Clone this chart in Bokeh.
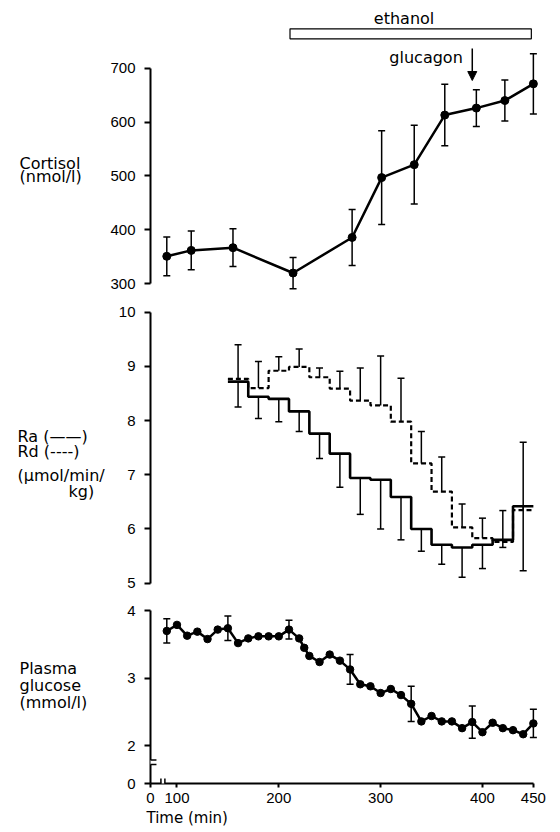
from bokeh.plotting import figure
from bokeh.models import (Range1d, FixedTicker, Whisker, TeeHead, ColumnDataSource,
                          Label, Arrow, NormalHead, BoxAnnotation, Title)
from bokeh.layouts import column, row
from bokeh.core.properties import value
from bokeh.embed import file_html
from bokeh.resources import INLINE

# ---------------- data ----------------
cortisol_time = [90, 114, 155, 214, 272, 301, 333, 363, 394, 422, 450]
cortisol = [351, 362, 367, 320, 386, 497, 521, 613, 626, 640, 671]
cortisol_sem = [36, 36, 35, 29, 52, 87, 73, 57, 34, 38, 56]

rate_edges = [150, 170, 190, 210, 230, 250, 270, 290, 310, 330, 350, 370, 390, 410, 430, 450]
ra = [8.72, 8.44, 8.40, 8.17, 7.76, 7.39, 6.94, 6.91, 6.59, 6.00, 5.71, 5.66, 5.71, 5.80, 6.42]
ra_sem = [0.47, 0.40, 0.42, 0.37, 0.46, 0.62, 0.67, 0.91, 0.79, 0.41, 0.36, 0.55, 0.44, 0.14, 1.19]
rd = [8.77, 8.60, 8.92, 8.99, 8.80, 8.59, 8.37, 8.28, 7.98, 7.21, 6.69, 6.03, 5.83, 5.76, 6.35]
rd_sem = [0.63, 0.49, 0.26, 0.33, 0.17, 0.32, 0.60, 0.91, 0.80, 0.59, 0.64, 0.43, 0.37, 0.58, 1.25]

glucose_time = [90, 100, 110, 120, 130, 140, 150, 160, 170, 180, 190, 200, 210, 220, 225,
                230, 240, 250, 260, 270, 280, 290, 300, 310, 320, 330, 340, 350, 360, 370,
                380, 390, 400, 410, 420, 430, 440, 450]
glucose = [3.70, 3.79, 3.63, 3.69, 3.58, 3.72, 3.74, 3.52, 3.59, 3.62, 3.62, 3.62, 3.72, 3.59, 3.45,
           3.33, 3.24, 3.35, 3.26, 3.13, 2.91, 2.88, 2.78, 2.84, 2.75, 2.62, 2.36, 2.44, 2.36, 2.36,
           2.26, 2.35, 2.20, 2.34, 2.26, 2.23, 2.17, 2.33]
glucose_sem_time = [90, 150, 210, 270, 330, 390, 450]
glucose_sem = [0.18, 0.18, 0.14, 0.22, 0.26, 0.24, 0.21]

ethanol_period = (211, 448)
glucagon_time = 390

cortisol_ticks = [300, 400, 500, 600, 700]
rate_ticks = [5, 6, 7, 8, 9, 10]
glucose_ticks = [2, 3, 4]
time_ticks = [100, 200, 300, 400, 450]

cortisol_label = ["Cortisol", "(nmol/l)"]
rate_label = ["Ra (\u2014\u2014)", "Rd (----)", "(\u03bcmol/min/", "kg)"]
glucose_label = ["Plasma", "glucose", "(mmol/l)"]
time_label = "Time (min)"

# ---------------- layout ----------------
FONT = "DejaVu Sans"
TICK_FONT = "Liberation Sans"
LABEL_W = 107             # left column holding the horizontal axis titles
TOTAL_H = 831
W = 559 - LABEL_W
FRAME_L = 40              # frame left edge at page x = 147
FRAME_W = 393
FRAME_R = W - FRAME_L - FRAME_W
X0, X1 = 74, 457          # X0 is drawn as "0" (broken time axis)
GLU_ZERO = 1.44           # drawn as "0" (broken glucose axis)
PAGE_FRAME_L = LABEL_W + FRAME_L

xr = Range1d(X0, X1)


def px_x(page_x):
    return X0 + (page_x - PAGE_FRAME_L) * (X1 - X0) / FRAME_W


def panel(height, y0, y1, top_page, bottom_border=0, xaxis=False):
    p = figure(width=W, height=height, x_range=xr, y_range=Range1d(y0, y1),
               x_axis_location="below" if xaxis else None,
               toolbar_location=None, output_backend="svg",
               min_border_left=FRAME_L, min_border_right=FRAME_R,
               min_border_top=0, min_border_bottom=bottom_border,
               outline_line_color=None, background_fill_color="white",
               border_fill_color="white")
    p.grid.visible = False
    frame_h = height - bottom_border

    def py(page_y):
        return y1 - (page_y - top_page) * (y1 - y0) / frame_h
    return p, py


def style_axis(ax, ticks, bounds, overrides, tick_out=6, standoff=9):
    ax.ticker = FixedTicker(ticks=ticks)
    ax.bounds = bounds
    ax.axis_line_width = 2
    ax.axis_line_color = "black"
    ax.major_tick_line_width = 2
    ax.major_tick_line_color = "black"
    ax.major_tick_out = tick_out
    ax.major_tick_in = 0
    ax.minor_tick_line_color = None
    ax.major_label_text_font = TICK_FONT
    ax.major_label_text_font_size = "15px"
    ax.major_label_text_color = "black"
    ax.major_label_standoff = standoff
    ax.major_label_overrides = overrides


def label(p, x, y, text, size="16px", align="left"):
    p.add_layout(Label(x=x, y=y, text=text, text_font=FONT, text_font_size=size,
                       text_baseline="middle", text_align=align, text_color="black"))


def tee():
    return TeeHead(size=7, line_width=1.5, line_color="black")


# ---------------- left column: horizontal axis titles ----------------
lab = figure(width=LABEL_W, height=TOTAL_H, x_range=Range1d(0, LABEL_W),
             y_range=Range1d(TOTAL_H, 0), x_axis_location=None, y_axis_location=None,
             toolbar_location=None, output_backend="svg", min_border=0,
             outline_line_color=None, background_fill_color="white",
             border_fill_color="white")
lab.grid.visible = False
lab_x = [19, 19, 17, 17, 17, 68, 19, 19, 19]
lab_y = [162.5, 176, 436, 451, 475, 491, 668, 685, 702]
lab.text(x=lab_x, y=lab_y, text=cortisol_label + rate_label + glucose_label,
         text_font=value(FONT), text_font_size=value("16px"), text_color="black",
         text_baseline="middle", text_align="left")

# ---------------- panel 1: cortisol ----------------
p1, py1 = panel(298, 283.86, 825.60, 0, bottom_border=6)
style_axis(p1.yaxis[0], cortisol_ticks, (300, 700), {t: str(t) for t in cortisol_ticks})

src1 = ColumnDataSource(dict(t=cortisol_time, v=cortisol,
                             lo=[v - e for v, e in zip(cortisol, cortisol_sem)],
                             up=[v + e for v, e in zip(cortisol, cortisol_sem)]))
p1.add_layout(Whisker(source=src1, base="t", lower="lo", upper="up", dimension="height",
                      line_width=1.5, line_color="black", lower_head=tee(), upper_head=tee()))
p1.line("t", "v", source=src1, line_width=2.5, line_color="black")
p1.scatter("t", "v", source=src1, size=8, marker="circle", fill_color="black", line_color="black")

p1.quad(left=[ethanol_period[0]], right=[ethanol_period[1]], bottom=[py1(38.3)], top=[py1(28.3)],
        fill_color=None, line_color="black", line_width=1.2)
label(p1, px_x(402.5), py1(18.3), "ethanol", align="center")
label(p1, px_x(461.7), py1(56.7), "glucagon", align="right")
p1.add_layout(Arrow(x_start=glucagon_time, y_start=py1(48), x_end=glucagon_time, y_end=py1(80),
                    line_width=1.5, line_color="black",
                    end=NormalHead(size=9, fill_color="black", line_color="black")))

# ---------------- panel 2: Ra / Rd ----------------
p2, py2 = panel(298, 4.7546, 10.2528, 298)
style_axis(p2.yaxis[0], rate_ticks, (5, 10), {t: str(t) for t in rate_ticks})

mids = [(a + b) / 2 for a, b in zip(rate_edges[:-1], rate_edges[1:])]
src_ra = ColumnDataSource(dict(t=mids, v=ra, lo=[v - e for v, e in zip(ra, ra_sem)]))
src_rd = ColumnDataSource(dict(t=mids, v=rd, up=[v + e for v, e in zip(rd, rd_sem)]))
p2.add_layout(Whisker(source=src_ra, base="t", lower="lo", upper="v", dimension="height",
                      line_width=1.5, line_color="black", lower_head=tee(), upper_head=None))
p2.add_layout(Whisker(source=src_rd, base="t", lower="v", upper="up", dimension="height",
                      line_width=1.5, line_color="black", lower_head=None, upper_head=tee()))
p2.step(rate_edges, rd + [rd[-1]], mode="after", line_width=2.2, line_color="black",
        line_dash="5 3")
p2.step(rate_edges, ra + [ra[-1]], mode="after", line_width=2.6, line_color="black")

# ---------------- panel 3: plasma glucose ----------------
H3 = TOTAL_H - 298 - 298
p3, py3 = panel(H3, GLU_ZERO, 4.2104, 596, bottom_border=H3 - 187, xaxis=True)
y_over = {GLU_ZERO: "0"}
y_over.update({t: str(t) for t in glucose_ticks})
style_axis(p3.yaxis[0], [GLU_ZERO] + glucose_ticks, (GLU_ZERO, 4), y_over)
x_over = {X0: "0"}
x_over.update({t: str(t) for t in time_ticks})
style_axis(p3.xaxis[0], [X0] + time_ticks, (X0, 450), x_over, tick_out=4, standoff=5)

src_g = ColumnDataSource(dict(t=glucose_time, v=glucose))
lookup = dict(zip(glucose_time, glucose))
src_ge = ColumnDataSource(dict(t=glucose_sem_time,
                               lo=[lookup[t] - e for t, e in zip(glucose_sem_time, glucose_sem)],
                               up=[lookup[t] + e for t, e in zip(glucose_sem_time, glucose_sem)]))
p3.add_layout(Whisker(source=src_ge, base="t", lower="lo", upper="up", dimension="height",
                      line_width=1.5, line_color="black", lower_head=tee(), upper_head=tee()))
p3.line("t", "v", source=src_g, line_width=2.5, line_color="black")
p3.scatter("t", "v", source=src_g, size=7.5, marker="circle", fill_color="black", line_color="black")

# axis breaks
p3.add_layout(BoxAnnotation(left=px_x(143.5), right=px_x(150.5), bottom=py3(764), top=py3(759.5),
                            fill_color="white", fill_alpha=1, line_color=None, level="overlay"))
for yy in (759.5, 764):
    p3.add_layout(Arrow(x_start=px_x(140), x_end=px_x(153), y_start=py3(yy), y_end=py3(yy),
                        start=None, end=None, line_width=1.5, line_color="black", level="overlay"))
p3.add_layout(BoxAnnotation(left=px_x(158), right=px_x(161), bottom=py3(785), top=py3(781),
                            fill_color="white", fill_alpha=1, line_color=None, level="overlay"))
for xx in (157.5, 161.5):
    p3.add_layout(Arrow(x_start=px_x(xx), x_end=px_x(xx), y_start=py3(778), y_end=py3(788),
                        start=None, end=None, line_width=1.5, line_color="black", level="overlay"))

p3.add_layout(Title(text=time_label, align="left", offset=-4, standoff=2,
                    text_font=FONT, text_font_size="15px", text_font_style="normal",
                    text_color="black"), "below")

layout = row(lab, column(p1, p2, p3, spacing=0), spacing=0)
open("out.html", "w").write(file_html(layout, INLINE))
